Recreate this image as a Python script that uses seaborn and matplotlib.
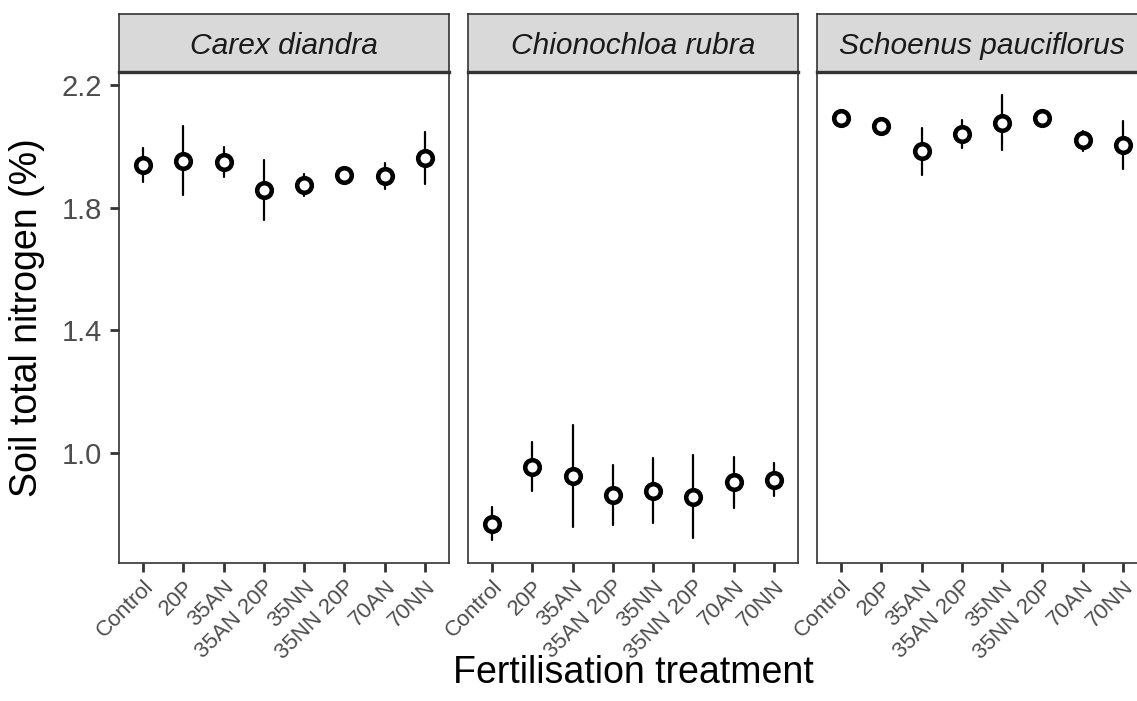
import numpy as np
import pandas as pd
import matplotlib
matplotlib.use("Agg")
import matplotlib.pyplot as plt
import seaborn as sns

species = ["Carex diandra", "Chionochloa rubra", "Schoenus pauciflorus"]
treatments = ["Control", "20P", "35AN", "35AN 20P", "35NN", "35NN 20P", "70AN", "70NN"]

carex_mean = [1.938, 1.953, 1.949, 1.857, 1.874, 1.906, 1.902, 1.963]
carex_lo   = [1.882, 1.840, 1.899, 1.760, 1.837, 1.893, 1.861, 1.877]
carex_hi   = [1.994, 2.067, 1.998, 1.954, 1.911, 1.919, 1.945, 2.048]

chion_mean = [0.769, 0.956, 0.926, 0.863, 0.877, 0.858, 0.905, 0.913]
chion_lo   = [0.718, 0.877, 0.760, 0.767, 0.771, 0.722, 0.820, 0.861]
chion_hi   = [0.823, 1.037, 1.092, 0.961, 0.984, 0.995, 0.987, 0.967]

schoen_mean = [2.092, 2.067, 1.983, 2.041, 2.077, 2.092, 2.021, 2.005]
schoen_lo   = [2.080, 2.055, 1.905, 1.995, 1.989, 2.080, 1.985, 1.926]
schoen_hi   = [2.104, 2.079, 2.061, 2.084, 2.167, 2.104, 2.051, 2.081]

y_ticks = [1.0, 1.4, 1.8, 2.2]

series = {
    "Carex diandra": (carex_mean, carex_lo, carex_hi),
    "Chionochloa rubra": (chion_mean, chion_lo, chion_hi),
    "Schoenus pauciflorus": (schoen_mean, schoen_lo, schoen_hi),
}

rows = []
for sp in species:
    m, lo, hi = series[sp]
    for t, a, b, c in zip(treatments, lo, m, hi):
        for v in (a, b, c):
            rows.append({"species": sp, "treatment": t, "value": v})
df = pd.DataFrame(rows)

sns.set_theme(style="ticks")
plt.rcParams["font.family"] = ["Liberation Sans", "DejaVu Sans"]

W, H = 1137, 701
fig = plt.figure(figsize=(W / 100, H / 100), dpi=100)

edge = "#333333"
lefts = [119, 468, 817]
pw = 330
top_px, bot_px, strip_top_px = 72, 563, 14

for i, sp in enumerate(species):
    l = lefts[i]
    ax = fig.add_axes([l / W, (H - bot_px) / H, pw / W, (bot_px - top_px) / H])
    sub = df[df["species"] == sp]
    sns.pointplot(
        data=sub, x="treatment", y="value", order=treatments,
        estimator="median", errorbar=lambda v: (v.min(), v.max()),
        linestyle="none", marker="o", color="black", capsize=0,
        markersize=10.5, markeredgewidth=3.3, markerfacecolor="white",
        markeredgecolor="black", zorder=5,
        err_kws={"linewidth": 1.6, "color": "black", "zorder": 3},
        ax=ax,
    )
    ax.set_xlim(-0.6, 7.6)
    ax.set_ylim(0.642, 2.242)
    ax.set_yticks(y_ticks)
    ax.set_xlabel("")
    ax.set_ylabel("")
    for s in ax.spines.values():
        s.set_visible(True)
        s.set_color(edge)
        s.set_linewidth(1.2)
    ax.tick_params(axis="both", colors=edge, width=2.0, length=6.5,
                   labelcolor="#4D4D4D")
    ax.tick_params(axis="y", labelsize=21, pad=6)
    ax.tick_params(axis="x", labelsize=16, pad=3)
    if i == 0:
        ax.set_yticklabels([f"{v:.1f}" for v in y_ticks])
    else:
        ax.tick_params(axis="y", left=False, labelleft=False)
    for lab in ax.get_xticklabels():
        lab.set_rotation(45)
        lab.set_ha("right")
        lab.set_va("top")
        lab.set_rotation_mode("anchor")
    ax.grid(False)
    ax.set_facecolor("white")

    sax = fig.add_axes([l / W, (H - top_px) / H, pw / W, (top_px - strip_top_px) / H])
    sax.set_facecolor("#D9D9D9")
    sax.set_xticks([])
    sax.set_yticks([])
    for s in sax.spines.values():
        s.set_visible(True)
        s.set_color(edge)
        s.set_linewidth(1.2)
    sax.spines["bottom"].set_linewidth(2.4)
    sax.text(0.5, 0.45, sp, transform=sax.transAxes, ha="center", va="center",
             fontsize=21.5, fontstyle="italic", color="#1A1A1A")

fig.text(633 / W, (H - 673) / H, "Fertilisation treatment", ha="center", va="center",
         fontsize=27, color="black")
fig.text(27 / W, (H - 317.5) / H, "Soil total nitrogen (%)", ha="center", va="center",
         rotation=90, fontsize=27, color="black")

fig.savefig("out.png", dpi=100, facecolor="white")
